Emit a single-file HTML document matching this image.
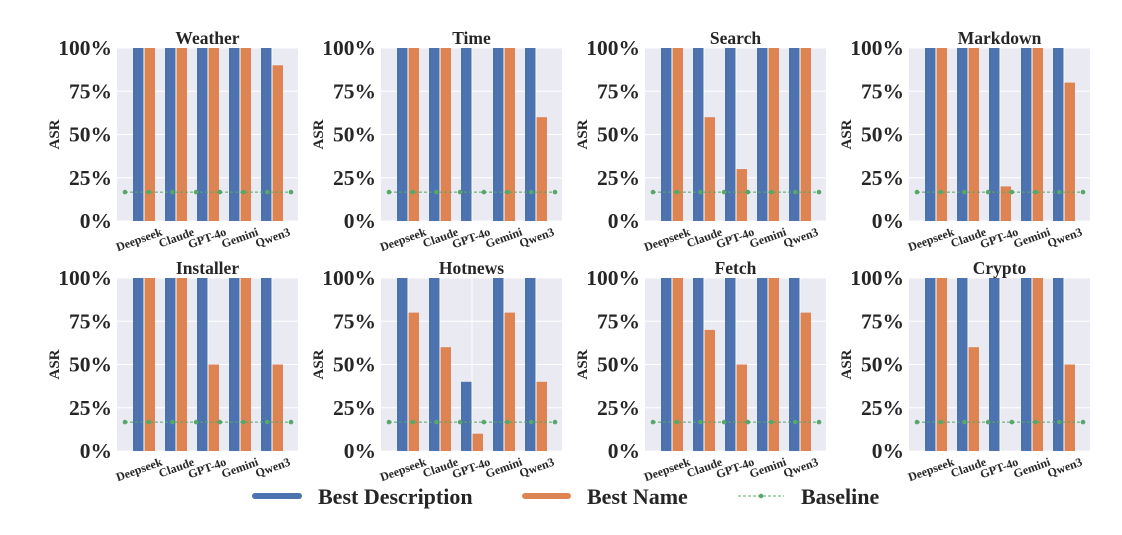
<!DOCTYPE html>
<html><head><meta charset="utf-8"><style>
html,body{margin:0;padding:0;background:#fff;}
svg{display:block;font-family:"Liberation Serif",serif;font-weight:bold;}
</style></head><body>
<svg id="chart" width="1122" height="535" viewBox="0 0 1122 535" xmlns="http://www.w3.org/2000/svg"></svg>
<script>
const categories = ["Deepseek","Claude","GPT-4o","Gemini","Qwen3"];
const panelTitles = ["Weather","Time","Search","Markdown","Installer","Hotnews","Fetch","Crypto"];
const bestDescription = [
  [100,100,100,100,100],
  [100,100,100,100,100],
  [100,100,100,100,100],
  [100,100,100,100,100],
  [100,100,100,100,100],
  [100,100,40,100,100],
  [100,100,100,100,100],
  [100,100,100,100,100]
];
const bestName = [
  [100,100,100,100,90],
  [100,100,0,100,60],
  [100,60,30,100,100],
  [100,100,20,100,80],
  [100,100,50,100,50],
  [80,60,10,80,40],
  [100,70,50,100,80],
  [100,60,0,100,50]
];
const baselineValue = 16.7;
const yTicks = [0,25,50,75,100];
const yTickLabels = ["0%","25%","50%","75%","100%"];

const NS = "http://www.w3.org/2000/svg";
const svg = document.getElementById("chart");
function mk(tag, attrs, parent){
  const e = document.createElementNS(NS, tag);
  for (const k in attrs) e.setAttribute(k, attrs[k]);
  (parent||svg).appendChild(e);
  return e;
}
const PW = 181, unit = 32, x0off = 27;
const lefts = [117,381,645,909];
const tops = [48,278], PH = 173;

panelTitles.forEach((title, p) => {
  const col = p % 4, row = Math.floor(p / 4);
  const L = lefts[col], T = tops[row];
  const g = mk("g", {});
  
  
  const xs = i => L + x0off + i * unit;
  const ys = v => T + PH - v / 100 * PH;
  const bg = mk("rect", {x:L, y:T, width:PW, height:PH, fill:"#eaeaf2"}, g);
  
  
  yTicks.forEach((t, k) => {
    mk("line", {x1:L, x2:L+PW, y1:ys(t), y2:ys(t), stroke:"#fff", "stroke-width":1}, g);
    const tl = mk("text", {x:L-5, y:ys(t)+7, "text-anchor":"end", "font-size":21.5, fill:"#262626"}, g);
    tl.textContent = yTickLabels[k];
    
    
  });
  categories.forEach((c, i) => {
    mk("line", {x1:xs(i), x2:xs(i), y1:T, y2:T+PH, stroke:"#fff", "stroke-width":1}, g);
  });
  categories.forEach((c, i) => {
    const vb = bestDescription[p][i], vo = bestName[p][i];
    const b = mk("rect", {x:xs(i)-11, y:ys(vb), width:10.5, height:ys(0)-ys(vb), fill:"#4c72b0"}, g);
    
    
    const o = mk("rect", {x:xs(i)+0.5, y:ys(vo), width:10.5, height:ys(0)-ys(vo), fill:"#dd8452"}, g);
    
    
    const xl = mk("text", {x:0, y:0, "text-anchor":"end", "font-size":12, fill:"#262626",
      transform:`translate(${xs(i)+19},${T+PH+14}) rotate(-20)`}, g);
    xl.textContent = c;
    
    
  });
  const by = ys(baselineValue);
  const bl = mk("line", {x1:L+8, x2:L+174, y1:by, y2:by, stroke:"#55a868", "stroke-width":1, "stroke-dasharray":"3,2"}, g);
  
  
  for (let k = 0; k < 8; k++) {
    const d = mk("circle", {cx:L+8+k*(166/7), cy:by, r:2.3, fill:"#55a868"}, g);
    
    
  }
  const tt = mk("text", {x:L+PW/2, y:T-4, "text-anchor":"middle", "font-size":17.5, fill:"#262626"}, g);
  tt.textContent = title;
  
  
  const yl = mk("text", {x:0, y:0, "text-anchor":"middle", "font-size":15, fill:"#262626",
    transform:`translate(${L-58},${T+PH/2}) rotate(-90)`}, g);
  yl.textContent = "ASR";
  
  
});

// legend
const lg = mk("g", {});


const l1 = mk("line", {x1:255, x2:299, y1:496, y2:496, stroke:"#4c72b0", "stroke-width":6, "stroke-linecap":"round"}, lg);


const t1 = mk("text", {x:318, y:504, "font-size":22, fill:"#262626"}, lg);
t1.textContent = "Best Description";


const l2 = mk("line", {x1:525, x2:568, y1:496, y2:496, stroke:"#dd8452", "stroke-width":6, "stroke-linecap":"round"}, lg);


const t2 = mk("text", {x:587, y:504, "font-size":22, fill:"#262626"}, lg);
t2.textContent = "Best Name";


const l3 = mk("line", {x1:738, x2:784, y1:496, y2:496, stroke:"#55a868", "stroke-width":1, "stroke-dasharray":"3,2"}, lg);


const c3 = mk("circle", {cx:761, cy:496, r:2.3, fill:"#55a868"}, lg);


const t3 = mk("text", {x:801, y:504, "font-size":22, fill:"#262626"}, lg);
t3.textContent = "Baseline";


</script>
</body></html>
